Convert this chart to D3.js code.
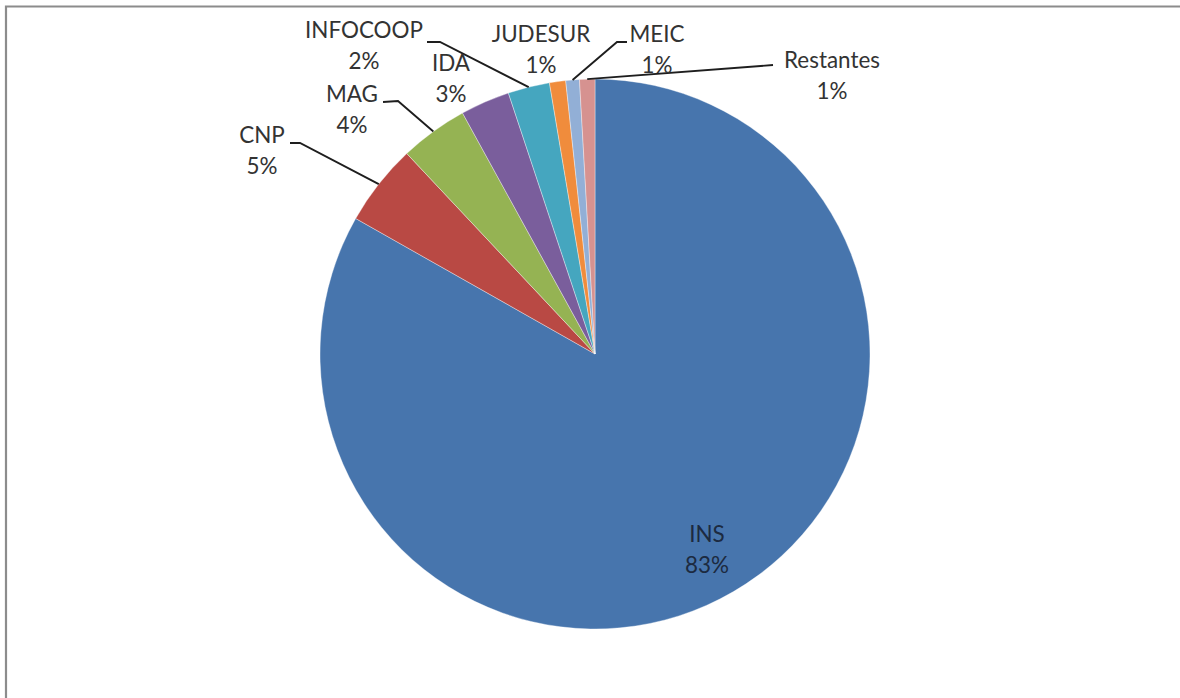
<!DOCTYPE html>
<html>
<head>
<meta charset="utf-8">
<script src="https://cdn.jsdelivr.net/npm/d3@7"></script>
<style>
  html, body { margin: 0; padding: 0; background: #fff; }
  svg { display: block; }
</style>
</head>
<body>
<svg id="chart" width="1180" height="698"></svg>
<script>
// ---- data ----
const categories = ["INS", "CNP", "MAG", "IDA", "INFOCOOP", "JUDESUR", "MEIC", "Restantes"];
const values = [83.2, 4.8, 4.0, 2.9, 2.45, 0.95, 0.8, 0.9];
const pctLabels = ["83%", "5%", "4%", "3%", "2%", "1%", "1%", "1%"];
const colors = ["#4775AD", "#B94944", "#95B353", "#7A5E9C", "#45A6BF", "#F08C3C", "#92AFD6", "#D69290"];

// ---- layout (positions/styles) ----
const W = 1180, H = 698;
const cx = 595, cy = 354, R = 275;
const lineGap = 31;
const labelLayout = {
  "INS":       { x: 707, y: 542 },
  "CNP":       { x: 262, y: 143, leader: [[290, 143], [300, 143]] },
  "MAG":       { x: 352, y: 102, leader: [[383, 102], [398, 101]] },
  "IDA":       { x: 451, y: 71 },
  "INFOCOOP":  { x: 364, y: 38, leader: [[427, 42], [440, 42]] },
  "JUDESUR":   { x: 541, y: 42 },
  "MEIC":      { x: 657, y: 42, leader: [[627, 42], [617, 42]] },
  "Restantes": { x: 832, y: 68, leader: [[773, 65]] }
};

const svg = d3.select("#chart");
svg.append("rect").attr("width", W).attr("height", H).attr("fill", "#fff");

// border (left and top only, as in the cropped reference)
svg.append("path")
  .attr("d", `M6,${H} L6,6.5 L${W},6.5`)
  .attr("fill", "none")
  .attr("stroke", "#8c8c8c")
  .attr("stroke-width", 2.2);

const data = categories.map((c, i) => ({ name: c, value: values[i], pct: pctLabels[i], color: colors[i] }));

const pie = d3.pie().sort(null).value(d => d.value);
const arcs = pie(data);
const arc = d3.arc().innerRadius(0).outerRadius(R);

const g = svg.append("g").attr("transform", `translate(${cx},${cy})`);
g.selectAll("path.slice")
  .data(arcs)
  .join("path")
  .attr("class", "slice")
  .attr("d", arc)
  .attr("fill", d => d.data.color)
  .attr("stroke", "#ffffff")
  .attr("stroke-opacity", 0.45)
  .attr("stroke-width", 0.8);

// leader lines
arcs.forEach(a => {
  const lay = labelLayout[a.data.name];
  if (!lay || !lay.leader) return;
  const mid = (a.startAngle + a.endAngle) / 2;
  const px = cx + Math.sin(mid) * R;
  const py = cy - Math.cos(mid) * R;
  const pts = lay.leader.concat([[px, py]]);
  svg.append("path")
    .attr("d", d3.line()(pts))
    .attr("fill", "none")
    .attr("stroke", "#1e1e1e")
    .attr("stroke-width", 1.9);
});

// labels
const fontFamily = "Lato, 'Open Sans', sans-serif";
const probe = svg.append("text").attr("font-family", fontFamily).attr("font-size", 26).text("INFOCOOP");
const w = probe.node().getComputedTextLength();
probe.remove();
const fontSize = Math.max(18, Math.min(28, 26 * 118 / (w || 118)));

arcs.forEach(a => {
  const lay = labelLayout[a.data.name];
  const t = svg.append("text")
    .attr("font-family", fontFamily)
    .attr("font-size", fontSize)
    .attr("fill", a.data.name === "INS" ? "#1c2a40" : "#333333")
    .attr("text-anchor", "middle");
  t.append("tspan").attr("x", lay.x).attr("y", lay.y).text(a.data.name);
  t.append("tspan").attr("x", lay.x).attr("y", lay.y + lineGap).text(a.data.pct);
});
</script>
</body>
</html>
